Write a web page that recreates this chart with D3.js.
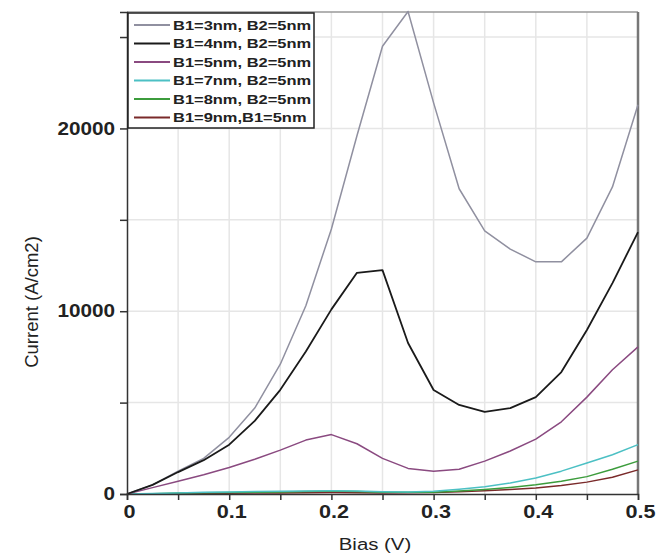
<!DOCTYPE html>
<html>
<head>
<meta charset="utf-8">
<script src="https://cdn.jsdelivr.net/npm/d3@7"></script>
<style>
  body { margin: 0; background: #fff; }
  text { font-family: "Liberation Sans", Arial, sans-serif; }
</style>
</head>
<body>
<svg id="chart" width="656" height="554"></svg>
<script>
var bias = [0, 0.025, 0.05, 0.075, 0.1, 0.125, 0.15, 0.175, 0.2, 0.225, 0.25,
            0.275, 0.3, 0.325, 0.35, 0.375, 0.4, 0.425, 0.45, 0.475, 0.5];

// current density (A/cm2) per structure
var b1_3nm = [0, 500, 1250, 1950, 3100, 4700, 7100, 10300, 14500, 19600, 24500,
              26400, 21400, 16700, 14400, 13400, 12700, 12700, 14000, 16800, 21300];
var b1_4nm = [0, 500, 1200, 1850, 2700, 4000, 5700, 7800, 10100, 12100, 12250,
              8260, 5690, 4870, 4490, 4700, 5300, 6670, 8970, 11540, 14330];
var b1_5nm = [0, 350, 700, 1050, 1450, 1900, 2400, 2950, 3250, 2750, 1950,
              1400, 1250, 1350, 1800, 2350, 3000, 3950, 5300, 6800, 8050];
var b1_7nm = [0, 30, 60, 90, 110, 130, 150, 170, 180, 160, 120,
              110, 150, 260, 400, 600, 870, 1250, 1700, 2150, 2700];
var b1_8nm = [0, 20, 50, 65, 80, 95, 110, 140, 170, 140, 100,
              90, 100, 160, 250, 360, 500, 700, 950, 1350, 1800];
var b1_9nm = [0, 10, 20, 30, 40, 50, 60, 70, 80, 70, 60,
              65, 80, 120, 180, 250, 330, 460, 650, 920, 1320];

var seriesNames = ["B1=3nm, B2=5nm", "B1=4nm, B2=5nm", "B1=5nm, B2=5nm",
                   "B1=7nm, B2=5nm", "B1=8nm, B2=5nm", "B1=9nm,B1=5nm"];
var seriesValues = [b1_3nm, b1_4nm, b1_5nm, b1_7nm, b1_8nm, b1_9nm];
var seriesColors = ["#9090a0", "#1a1a1a", "#8a4a80", "#4cc0c4", "#3c9c3c", "#7a2a2a"];

var xTicks = [0, 0.1, 0.2, 0.3, 0.4, 0.5];
var yTicks = [0, 10000, 20000];

var svg = d3.select("#chart");
var pl = 127, pr = 638, pt = 12, pb = 494;

var x = d3.scaleLinear().domain([0, 0.5]).range([pl, pr]);
var y = d3.scaleLinear().domain([0, 26370]).range([pb, pt]);

// grid
var g = svg.append("g");
g.selectAll(".vg").data(d3.range(1, 10).map(function (i) { return i * 0.05; }))
  .enter().append("line")
  .attr("x1", function (d) { return x(d); }).attr("x2", function (d) { return x(d); })
  .attr("y1", pt).attr("y2", pb)
  .attr("stroke", "#e6e6e6").attr("stroke-width", 1.5);
g.selectAll(".hg").data([5000, 10000, 15000, 20000, 25000])
  .enter().append("line")
  .attr("x1", pl).attr("x2", pr)
  .attr("y1", function (d) { return y(d); }).attr("y2", function (d) { return y(d); })
  .attr("stroke", "#e6e6e6").attr("stroke-width", 1.5);

// frame top / right
svg.append("line").attr("x1", pl).attr("x2", pr).attr("y1", pt).attr("y2", pt)
  .attr("stroke", "#999").attr("stroke-width", 1.5);
svg.append("line").attr("x1", pr).attr("x2", pr).attr("y1", pt).attr("y2", pb)
  .attr("stroke", "#777").attr("stroke-width", 2.5);

// lines
var line = d3.line()
  .x(function (d, i) { return x(bias[i]); })
  .y(function (d) { return y(d); });

var order = [5, 4, 3, 2, 0, 1];
svg.selectAll(".series").data(order).enter().append("path")
  .attr("d", function (k) { return line(seriesValues[k]); })
  .attr("fill", "none")
  .attr("stroke", function (k) { return seriesColors[k]; })
  .attr("stroke-width", function (k) { return k == 1 ? 1.8 : 1.5; })
  .attr("stroke-linejoin", "round");

// axes
var xAxis = d3.axisBottom(x).tickValues(d3.range(0, 11).map(function (i) { return i * 0.05; }))
  .tickSize(6)
  .tickFormat(function (d) { return xTicks.some(function (t) { return Math.abs(t - d) < 1e-9; }) ? String(+d.toFixed(2)) : ""; });
var gx = svg.append("g").attr("transform", "translate(0," + pb + ")").call(xAxis);
gx.select(".domain").attr("stroke", "#333").attr("stroke-width", 1.5);
gx.selectAll(".tick line").attr("stroke", "#333").attr("stroke-width", 1.5);
gx.selectAll(".tick text").attr("font-size", 18).attr("font-weight", "bold").attr("fill", "#222")
  .attr("dy", "0.85em").attr("transform", "translate(2,0) scale(1.2,1)")
  .attr("x", 0);

var yAxis = d3.axisLeft(y).tickValues([0, 5000, 10000, 15000, 20000, 25000])
  .tickSize(7)
  .tickFormat(function (d) { return yTicks.indexOf(d) >= 0 ? d : ""; });
var gy = svg.append("g").attr("transform", "translate(" + pl + ",0)").call(yAxis);
gy.select(".domain").attr("stroke", "#333").attr("stroke-width", 1.5);
gy.selectAll(".tick line").attr("stroke", "#333").attr("stroke-width", 1.5);
gy.selectAll(".tick text").attr("font-size", 18).attr("font-weight", "bold").attr("fill", "#222")
  .attr("x", -12).attr("transform", "translate(-12,0) scale(1.15,1) translate(12,0)");

// axis titles
svg.append("text").attr("transform", "translate(375,550) scale(1.2,1)").attr("text-anchor", "middle")
  .attr("font-size", 17).attr("fill", "#222").text("Bias (V)");
svg.append("text").attr("transform", "translate(38,302) rotate(-90)").attr("text-anchor", "middle")
  .attr("font-size", 18.5).attr("fill", "#222").text("Current (A/cm2)");

// legend
var lg = svg.append("g");
lg.append("rect").attr("x", 128).attr("y", 13).attr("width", 186).attr("height", 115)
  .attr("fill", "#fff").attr("stroke", "#222").attr("stroke-width", 1.5);
seriesNames.forEach(function (name, i) {
  var yy = 25 + i * 18.5;
  lg.append("line").attr("x1", 134).attr("x2", 170).attr("y1", yy).attr("y2", yy)
    .attr("stroke", seriesColors[i]).attr("stroke-width", 2);
  lg.append("text").attr("transform", "translate(173," + yy + ") scale(1.22,1)").attr("dy", "0.36em")
    .attr("font-size", 13.5).attr("font-weight", "bold").attr("fill", "#222").text(name);
});
</script>
</body>
</html>
